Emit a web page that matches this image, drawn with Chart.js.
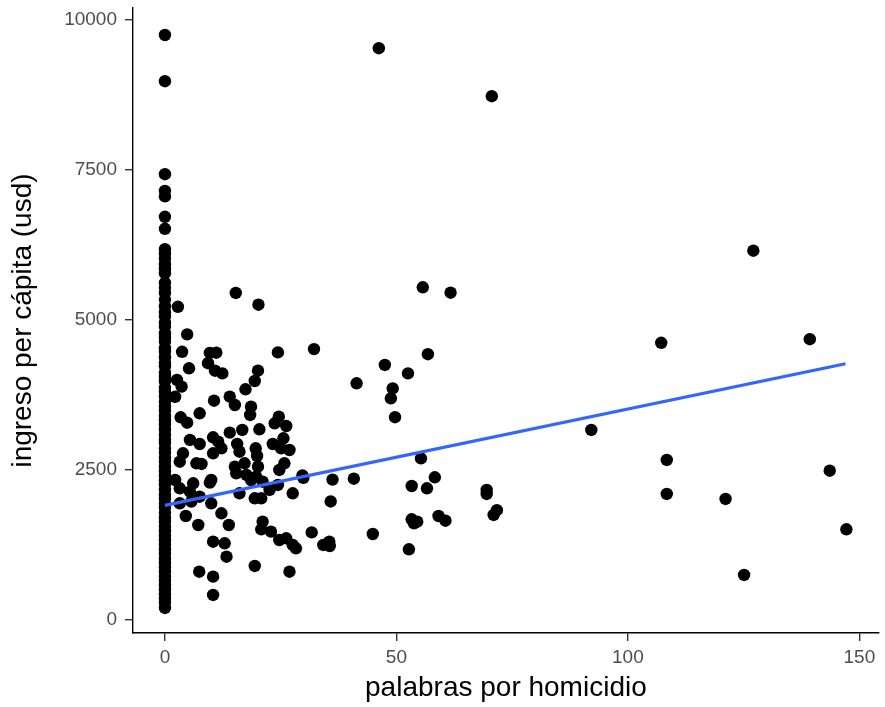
<!DOCTYPE html>
<html lang="es">
<head>
<meta charset="utf-8">
<title>ingreso per cápita vs palabras por homicidio</title>
<script src="https://cdn.jsdelivr.net/npm/chart.js@4.4.1/dist/chart.umd.min.js"></script>
<style>
    html, body { margin: 0; padding: 0; background: #fff; }
    #scatterChart { display: block; }
</style>
</head>
<body>
<canvas id="scatterChart" width="885" height="707"></canvas>
<script>
// municipios con 0 palabras por homicidio (columna en x = 0)
const zeroColumnIncome = [
    9750, 8980, 7430, 7150, 7060, 6720, 6520, 6180, 6100, 6020, 5930, 5850, 5780,
    5620, 5540, 5450, 5340, 5230, 5130, 5060, 4950, 4890, 4780, 4700, 4640, 4530,
    4470, 4380, 4290, 4230, 4120, 4050, 3980, 3870, 3800, 3720, 3640, 3560, 3490,
    3400, 3330, 3250, 3170, 3090, 3010, 2950, 2860, 2790, 2700, 2640, 2560, 2480,
    2400, 2330, 2260, 2170, 2090, 2020, 1940, 1870, 1790, 1700, 1640, 1560, 1480,
    1410, 1330, 1250, 1180, 1100, 1020, 950, 880, 800, 720, 660, 580, 500, 430,
    360, 290, 200
];

// resto de municipios: palabras por homicidio e ingreso per cápita
const wordsPerHomicide = [
    46.2, 70.6, 127.1, 55.7, 61.7, 15.3, 20.2, 2.8, 4.8, 107.2, 139.3, 56.8, 32.2,
    24.4, 47.5, 52.5, 41.4, 49.2, 48.8, 49.7, 92.1, 108.4, 55.3, 143.6, 108.4, 121.1,
    147.2, 125.1,
    58.3, 56.6, 53.3, 69.5, 69.5, 71.0, 71.7, 53.3, 54.5, 53.8, 59.1, 60.6, 52.7,
    44.9, 40.8, 36.2, 35.8, 29.9, 31.7, 34.2, 35.5, 35.6,
    3.7, 9.7, 11.1, 9.3, 5.2, 10.8, 12.4, 20.1, 19.4, 17.4, 2.6, 3.6, 2.2, 10.6,
    14.0, 15.1, 7.5, 18.6, 18.4, 3.4, 4.8, 24.6, 26.2, 23.7, 20.4, 16.7, 14.0, 10.4,
    5.4, 7.5, 11.5, 12.2, 15.6, 16.1, 19.6, 19.9, 23.3, 25.6, 25.1, 26.9, 3.9, 3.2,
    6.8, 7.9, 10.4, 15.1, 17.2, 20.1, 25.8, 24.7, 10.0, 29.7, 2.2, 3.2, 6.1, 9.7,
    15.4, 16.1, 17.6, 18.6, 19.7, 21.1, 19.4, 20.8, 22.6, 24.4, 27.6, 5.4, 7.5, 3.2,
    5.7, 10.0, 4.5, 7.2, 12.2, 13.8, 10.4, 12.9, 13.3, 21.1, 20.8, 22.9, 24.7, 26.2,
    27.6, 28.3, 19.4, 26.9, 7.4, 10.4, 10.4
];
const incomePerCapita = [
    9530, 8730, 6155, 5545, 5455, 5450, 5255, 5220, 4760, 4620, 4680, 4430, 4515,
    4460, 4250, 4110, 3945, 3860, 3695, 3380, 3167, 2667, 2695, 2488, 2100, 2017,
    1512, 750,
    2378, 2195, 2233, 2167, 2100, 1750, 1830, 1678, 1638, 1612, 1733, 1655, 1178,
    1433, 2355, 2340, 1975, 2370, 1460, 1250, 1305, 1233,
    4470, 4450, 4455, 4280, 4195, 4155, 4110, 4155, 3983, 3845, 4000, 3890, 3720, 3655,
    3722, 3583, 3445, 3555, 3417, 3378, 3288, 3388, 3233, 3278, 3178, 3167, 3122, 3045,
    3000, 2933, 2972, 2862, 2933, 2805, 2862, 2733, 2933, 3028, 2862, 2833, 2778, 2638,
    2612, 2600, 2778, 2555, 2612, 2555, 2612, 2500, 2333, 2410, 2333, 2195, 2278, 2290,
    2445, 2112, 2417, 2333, 2388, 2305, 2028, 2028, 2167, 2250, 2112, 2138, 2055, 1945,
    1972, 1945, 1733, 1583, 1778, 1583, 1305, 1278, 1055, 1638, 1512, 1472, 1333, 1361,
    1250, 1195, 900, 805, 805, 722, 417
];

// recta de regresión (lm)
const trendX = [0, 147];
const trendY = [1910, 4270];

const xTicks = [0, 50, 100, 150];
const yTicks = [0, 2500, 5000, 7500, 10000];

const fontFamily = "'Liberation Sans', Arial, Helvetica, sans-serif";
const tickColor = '#4d4d4d';

function buildPoints() {
    const points = zeroColumnIncome.map(y => ({ x: 0, y: y }));
    wordsPerHomicide.forEach((x, i) => {
        points.push({ x: x, y: incomePerCapita[i] });
    });
    return points;
}

function axisStyle(ticks, labelPadding) {
    return {
        type: 'linear',
        afterBuildTicks: scale => {
            scale.ticks = ticks.map(v => ({ value: v }));
        },
        ticks: {
            color: tickColor,
            font: { family: fontFamily, size: 19 },
            padding: labelPadding,
            callback: value => String(value)
        },
        grid: {
            display: true,
            drawOnChartArea: false,
            drawTicks: true,
            tickLength: 8,
            color: '#333333',
            lineWidth: 1.4
        },
        border: {
            display: true,
            color: '#000000',
            width: 1.4
        }
    };
}

function initializeChart() {
    const ctx = document.getElementById('scatterChart').getContext('2d');

    const xScale = axisStyle(xTicks, 5);
    xScale.min = -6.9;
    xScale.max = 154.2;
    xScale.title = {
        display: true,
        text: 'palabras por homicidio',
        color: '#000000',
        font: { family: fontFamily, size: 28 },
        padding: { top: 2, bottom: 2 }
    };
    xScale.afterFit = scale => {
        scale.height = 74;
        scale.paddingLeft = 0;
        scale.paddingRight = 0;
    };

    const yScale = axisStyle(yTicks, 8);
    yScale.min = -217;
    yScale.max = 10200;
    yScale.title = {
        display: true,
        text: 'ingreso per cápita (usd)',
        color: '#000000',
        font: { family: fontFamily, size: 28 },
        padding: { top: 6, bottom: 0 }
    };
    yScale.afterFit = scale => {
        scale.width = 133;
        scale.paddingTop = 0;
        scale.paddingBottom = 0;
    };

    new Chart(ctx, {
        type: 'scatter',
        data: {
            datasets: [
                {
                    type: 'line',
                    label: 'tendencia',
                    data: trendX.map((x, i) => ({ x: x, y: trendY[i] })),
                    borderColor: '#3366FF',
                    borderWidth: 3.2,
                    pointRadius: 0,
                    fill: false,
                    tension: 0
                },
                {
                    label: 'municipios',
                    data: buildPoints(),
                    backgroundColor: '#000000',
                    borderWidth: 0,
                    pointRadius: 6.2,
                    pointHoverRadius: 6.2
                }
            ]
        },
        options: {
            responsive: false,
            animation: false,
            layout: {
                padding: { top: 8, right: 3, left: 0, bottom: 0 }
            },
            scales: {
                x: xScale,
                y: yScale
            },
            plugins: {
                legend: { display: false },
                tooltip: { enabled: false }
            },
            events: []
        }
    });
}

document.addEventListener('DOMContentLoaded', () => {
    initializeChart();
});
</script>
</body>
</html>
